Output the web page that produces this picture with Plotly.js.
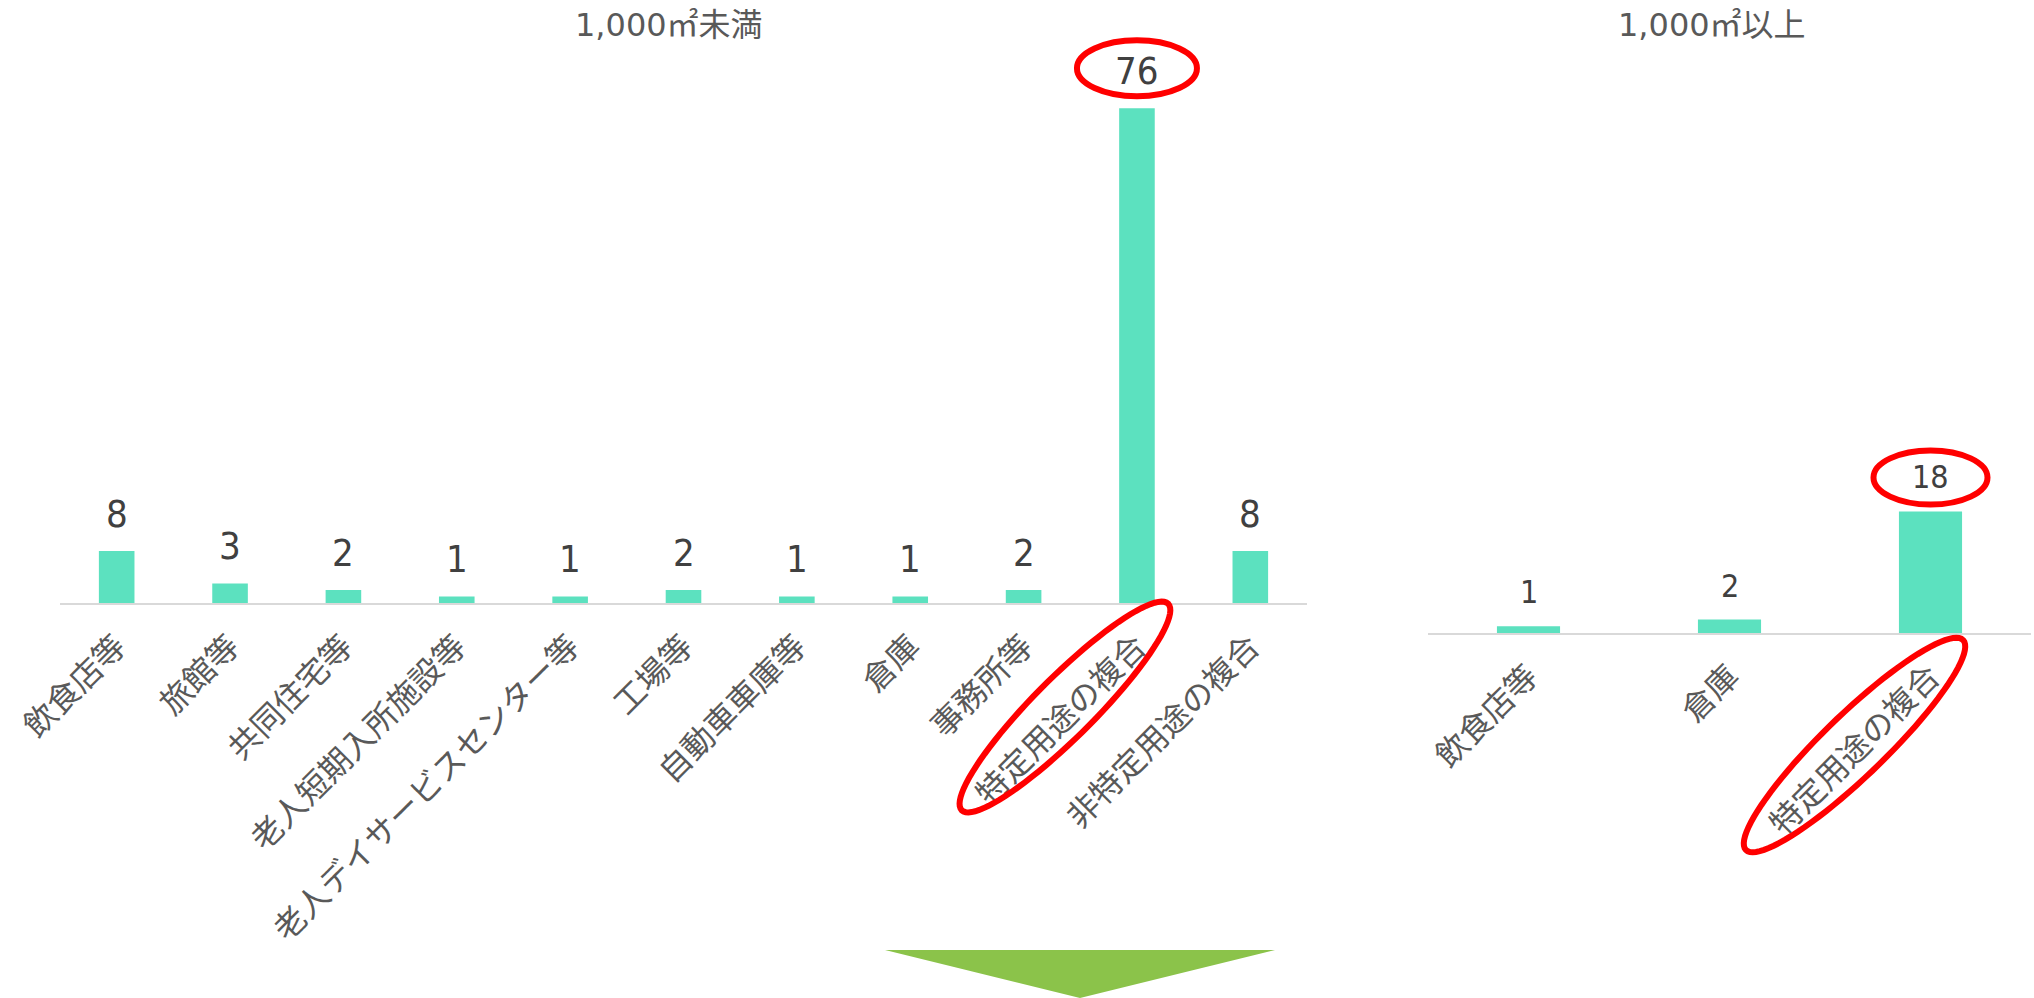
<!DOCTYPE html>
<html>
<head>
<meta charset="utf-8">
<script src="https://cdn.plot.ly/plotly-3.0.1.min.js"></script>
<style>
  html, body { margin: 0; padding: 0; background: #ffffff; }
  #chart { width: 2034px; height: 998px; }
</style>
</head>
<body>
<div id="chart"></div>
<script>
// ---- data ----
const leftTitle = "1,000㎡未満";
const rightTitle = "1,000㎡以上";
const leftCategories = ["飲食店等", "旅館等", "共同住宅等", "老人短期入所施設等", "老人デイサービスセンター等", "工場等", "自動車車庫等", "倉庫", "事務所等", "特定用途の複合", "非特定用途の複合"];
const leftValues = [8, 3, 2, 1, 1, 2, 1, 1, 2, 76, 8];
const rightCategories = ["飲食店等", "倉庫", "特定用途の複合"];
const rightValues = [1, 2, 18];
const highlightCategory = "特定用途の複合";

// ---- styles ----
const W = 2034, H = 998;
const barColor = "#5CE1BF";
const axisLineColor = "#D9D9D9";
const tickColor = "#595959";
const labelColor = "#404040";
const cjk = "Noto Sans CJK JP";
const numFont = "Liberation Sans Narrow, DejaVu Sans Condensed, sans-serif";

function px2paperX(px) { return px / W; }
function px2paperY(py) { return 1 - py / H; }

function ellipsePath(cx, cy, rx, ry, angDeg) {
  const a = angDeg * Math.PI / 180;
  const n = 90;
  let d = "";
  for (let i = 0; i <= n; i++) {
    const t = 2 * Math.PI * i / n;
    const ex = rx * Math.cos(t), ey = ry * Math.sin(t);
    const x = cx + ex * Math.cos(a) - ey * Math.sin(a);
    const y = cy + ex * Math.sin(a) + ey * Math.cos(a);
    d += (i === 0 ? "M" : "L") + x.toFixed(2) + "," + y.toFixed(2);
  }
  return d + "Z";
}

const yAxisL = { domain: [px2paperY(603), px2paperY(82.2)], range: [0, 80] };
const yAxisR = { domain: [px2paperY(633), px2paperY(498)], range: [0, 20] };
// value -> paper position along a y axis (used only to anchor decorations so they are not clipped)
function yPaper(ax, v) {
  return ax.domain[0] + (v - ax.range[0]) / (ax.range[1] - ax.range[0]) * (ax.domain[1] - ax.domain[0]);
}

const traces = [
  {
    type: "bar", x: leftCategories, y: leftValues, xaxis: "x", yaxis: "y",
    marker: { color: barColor }, hoverinfo: "x+y", showlegend: false
  },
  {
    type: "bar", x: rightCategories, y: rightValues, xaxis: "x2", yaxis: "y2",
    marker: { color: barColor }, hoverinfo: "x+y", showlegend: false
  }
];

const annotations = [];
leftCategories.forEach((c, i) => {
  annotations.push({
    xref: "x", yref: "y", x: c, y: leftValues[i], text: String(leftValues[i]),
    showarrow: false, yanchor: "bottom", yshift: 13,
    font: { family: numFont, size: 38, color: labelColor }
  });
});
rightCategories.forEach((c, i) => {
  annotations.push({
    xref: "x2", yref: "y2", x: c, y: rightValues[i], text: String(rightValues[i]),
    showarrow: false, yanchor: "bottom", yshift: 13,
    font: { family: numFont, size: 32, color: labelColor }
  });
});
annotations.push({
  xref: "paper", yref: "paper", x: px2paperX(669), y: px2paperY(25), text: leftTitle,
  showarrow: false, xanchor: "center", yanchor: "middle",
  font: { family: "DejaVu Sans, " + cjk + ", sans-serif", size: 32, color: tickColor }
});
annotations.push({
  xref: "paper", yref: "paper", x: px2paperX(1712), y: px2paperY(25), text: rightTitle,
  showarrow: false, xanchor: "center", yanchor: "middle",
  font: { family: "DejaVu Sans, " + cjk + ", sans-serif", size: 32, color: tickColor }
});

const li = leftCategories.indexOf(highlightCategory);
const ri = rightCategories.indexOf(highlightCategory);
const red = "#FF0000";

const shapes = [
  // ellipses round the top value labels
  {
    type: "circle", xref: "x", yref: "paper", xsizemode: "pixel", ysizemode: "pixel",
    xanchor: li, yanchor: yPaper(yAxisL, leftValues[li]), x0: -60, x1: 60, y0: 12, y1: 68,
    line: { color: red, width: 6 }
  },
  {
    type: "circle", xref: "x2", yref: "paper", xsizemode: "pixel", ysizemode: "pixel",
    xanchor: ri, yanchor: yPaper(yAxisR, rightValues[ri]), x0: -57, x1: 57, y0: 7, y1: 61,
    line: { color: red, width: 6 }
  },
  // ellipses round the rotated category labels
  {
    type: "path", xref: "x", yref: "paper", xsizemode: "pixel", ysizemode: "pixel",
    xanchor: li, yanchor: yPaper(yAxisL, 0), path: ellipsePath(-72, -104, 146, 30, 45),
    line: { color: red, width: 6 }
  },
  {
    type: "path", xref: "x2", yref: "paper", xsizemode: "pixel", ysizemode: "pixel",
    xanchor: ri, yanchor: yPaper(yAxisR, 0), path: ellipsePath(-76, -112, 151, 31, 44),
    line: { color: red, width: 6 }
  },
  // green arrow
  {
    type: "path", xref: "paper", yref: "paper",
    path: "M" + px2paperX(885) + "," + px2paperY(950) + "L" + px2paperX(1275) + "," + px2paperY(950) +
          "L" + px2paperX(1080) + "," + px2paperY(998) + "Z",
    fillcolor: "#8BC34A", line: { width: 0 }
  }
];

const xaxisCommon = {
  type: "category", showgrid: false, zeroline: false, showline: true,
  linecolor: axisLineColor, linewidth: 2, ticks: "", tickangle: -45,
  ticklabelstandoff: 10,
  tickfont: { family: cjk + ", sans-serif", size: 32, color: tickColor },
  fixedrange: true
};
const yaxisCommon = {
  showgrid: false, zeroline: false, showline: false, showticklabels: false, ticks: "", fixedrange: true
};

const layout = {
  width: W, height: H,
  margin: { l: 0, r: 0, t: 0, b: 0 },
  paper_bgcolor: "#ffffff", plot_bgcolor: "#ffffff",
  bargap: 0.686,
  showlegend: false,
  xaxis: Object.assign({}, xaxisCommon, { domain: [px2paperX(60), px2paperX(1307)], anchor: "y", range: [-0.5, 10.5] }),
  yaxis: Object.assign({}, yaxisCommon, { domain: yAxisL.domain, anchor: "x", range: yAxisL.range }),
  xaxis2: Object.assign({}, xaxisCommon, { domain: [px2paperX(1428), px2paperX(2031)], anchor: "y2", range: [-0.5, 2.5] }),
  yaxis2: Object.assign({}, yaxisCommon, { domain: yAxisR.domain, anchor: "x2", range: yAxisR.range }),
  annotations: annotations,
  shapes: shapes
};

Plotly.newPlot("chart", traces, layout, { displayModeBar: false, staticPlot: true });
</script>
</body>
</html>
